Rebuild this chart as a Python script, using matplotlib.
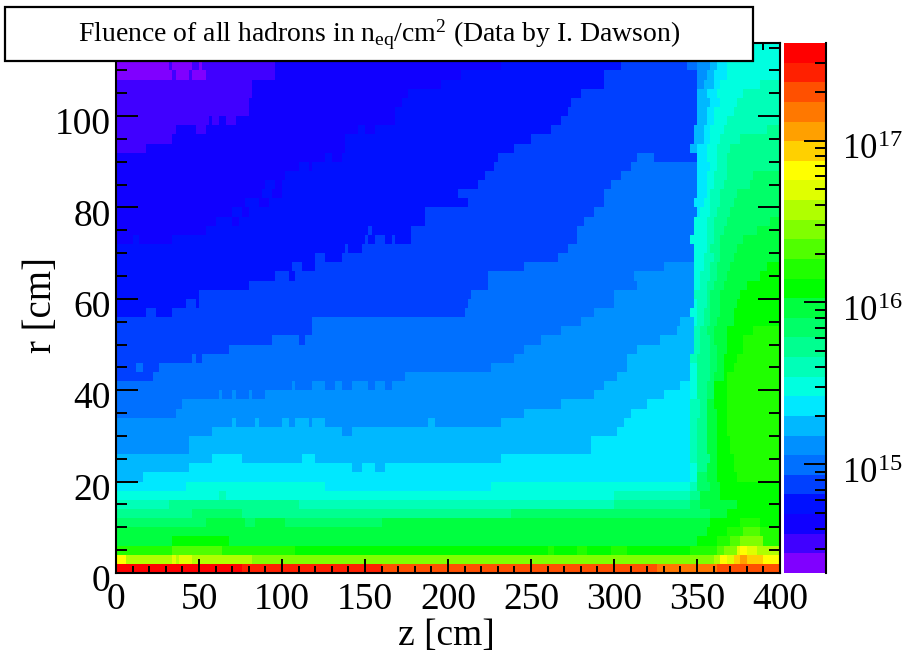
import numpy as np
import matplotlib
matplotlib.use("Agg")
import matplotlib.pyplot as plt
from matplotlib.colors import ListedColormap, LogNorm
from matplotlib.patches import Rectangle
from matplotlib.ticker import LogLocator, MultipleLocator, NullFormatter, FixedLocator, FixedFormatter
import matplotlib.transforms as mtrans

# Colour-band index read per 2 cm r-row, as (z end in cm, band) runs from z = 0
rows_000_020 = [
 [(76,26),(160,25),(326,24),(362,23),(400,24)],
 [(6,20),(34,18),(36,19),(38,18),(46,19),(82,18),(360,17),(364,18),(368,20),(372,19),(376,21),(380,22),(390,21),(400,20)],
 [(34,15),(64,16),(108,15),(260,14),(264,15),(278,14),(284,15),(298,14),(308,15),(346,14),(362,15),(366,16),(374,17),(376,19),(380,20),(386,19),(400,18)],
 [(34,13),(68,14),(350,13),(362,14),(370,15),(376,16),(390,17),(400,15)],
 [(356,13),(368,14),(378,15),(388,16),(400,15)],
 [(54,12),(78,13),(84,12),(102,13),(160,12),(358,13),(376,14),(388,15),(400,14)],
 [(46,11),(76,12),(238,11),(358,12),(368,13),(400,14)],
 [(32,10),(110,11),(300,10),(346,11),(352,12),(374,13),(400,14)],
 [(62,9),(66,10),(300,9),(346,10),(352,11),(364,13),(400,14)],
 [(42,8),(126,9),(226,8),(346,9),(350,10),(358,12),(364,13),(400,14)],
]
rows_020_040 = [
 [(16,7),(346,8),(350,9),(356,12),(362,13),(374,14),(400,15)],
 [(44,7),(142,8),(148,7),(156,8),(162,7),(346,8),(350,9),(356,11),(362,13),(372,14),(400,15)],
 [(58,7),(76,8),(112,7),(120,8),(232,7),(346,8),(350,10),(358,11),(362,13),(372,14),(400,15)],
 [(44,6),(286,7),(346,8),(350,10),(356,11),(362,13),(370,14),(400,15)],
 [(44,6),(286,7),(346,8),(350,10),(356,11),(362,13),(370,14),(400,15)],
 [(58,6),(136,7),(142,6),(302,7),(346,8),(350,10),(356,11),(362,13),(368,14),(400,15)],
 [(70,6),(72,7),(84,6),(86,7),(100,6),(104,7),(108,6),(116,7),(118,6),(126,7),(188,6),(192,7),(232,6),(306,7),(346,8),(350,10),(356,11),(362,13),(368,14),(400,15)],
 [(36,5),(246,6),(310,7),(346,8),(352,10),(356,11),(362,13),(368,14),(400,15)],
 [(40,5),(268,6),(320,7),(346,8),(352,10),(356,11),(360,13),(368,14),(400,15)],
 [(62,5),(64,6),(70,5),(72,6),(80,5),(82,6),(90,5),(288,6),(330,7),(346,8),(350,9),(356,11),(360,12),(368,14),(400,15)],
]
rows_040_060 = [
 [(106,5),(108,6),(118,5),(126,6),(132,5),(136,6),(142,5),(152,6),(156,5),(162,6),(166,5),(294,6),(340,7),(346,8),(350,9),(356,11),(360,12),(368,14),(400,15)],
 [(22,4),(174,5),(302,6),(346,7),(350,9),(358,11),(360,12),(366,13),(368,14),(400,15)],
 [(12,4),(16,5),(26,4),(226,5),(308,6),(346,7),(350,9),(358,11),(362,12),(366,13),(372,14),(400,15)],
 [(46,4),(48,5),(52,4),(240,5),(308,6),(346,7),(350,10),(358,11),(362,12),(366,13),(374,14),(400,15)],
 [(68,4),(246,5),(314,6),(348,7),(352,10),(358,11),(362,12),(368,13),(378,14),(400,15)],
 [(94,4),(110,5),(114,4),(256,5),(328,6),(348,7),(352,10),(358,11),(360,12),(368,13),(378,14),(400,15)],
 [(118,4),(268,5),(338,6),(348,7),(352,10),(356,11),(360,12),(368,13),(384,14),(400,15)],
 [(118,4),(280,5),(340,6),(348,7),(350,9),(354,10),(358,11),(362,12),(372,13),(400,14)],
 [(18,3),(24,4),(34,3),(210,4),(288,5),(346,6),(350,9),(354,10),(358,11),(364,12),(372,13),(400,14)],
 [(42,3),(48,4),(50,3),(212,4),(300,5),(348,6),(350,9),(356,10),(358,11),(364,12),(374,13),(400,14)],
]
rows_060_080 = [
 [(50,3),(214,4),(300,5),(348,6),(356,10),(358,11),(364,12),(376,13),(400,14)],
 [(80,3),(224,4),(314,5),(348,6),(352,9),(356,10),(360,11),(366,12),(380,13),(400,14)],
 [(96,3),(104,4),(108,3),(224,4),(312,5),(348,6),(352,9),(358,10),(362,11),(368,12),(388,13),(400,14)],
 [(106,3),(112,4),(120,3),(246,4),(330,5),(348,6),(354,9),(358,10),(362,11),(370,12),(392,13),(400,14)],
 [(120,3),(126,4),(136,3),(148,4),(266,4),(348,5),(354,9),(360,10),(364,11),(372,12),(400,13)],
 [(138,3),(140,4),(148,3),(272,4),(348,5),(356,9),(358,10),(364,11),(374,12),(400,13)],
 [(10,2),(14,3),(34,2),(150,3),(152,4),(156,3),(162,4),(166,3),(168,4),(178,3),(278,4),(346,5),(356,9),(360,10),(364,11),(378,12),(400,13)],
 [(54,2),(152,3),(154,4),(178,3),(278,4),(348,5),(356,9),(360,10),(366,11),(386,12),(400,13)],
 [(60,2),(70,3),(74,2),(186,3),(282,4),(348,5),(356,9),(360,10),(368,11),(394,12),(400,13)],
 [(70,2),(76,3),(80,2),(186,3),(288,4),(350,5),(352,8),(358,9),(362,10),(370,11),(400,12)],
]
rows_080_100 = [
 [(78,2),(86,3),(92,2),(212,3),(294,4),(348,5),(354,8),(358,9),(364,10),(372,11),(400,12)],
 [(88,2),(94,3),(100,2),(206,3),(294,4),(350,5),(356,8),(358,9),(364,10),(374,11),(400,12)],
 [(90,2),(96,3),(100,2),(218,3),(298,4),(350,5),(356,8),(360,9),(366,10),(382,11),(400,12)],
 [(102,2),(222,3),(304,4),(350,5),(356,8),(360,9),(368,10),(384,11),(400,12)],
 [(110,2),(116,3),(118,2),(228,3),(310,4),(350,5),(358,8),(362,9),(368,10),(400,11)],
 [(126,2),(130,3),(136,2),(230,3),(314,4),(324,5),(350,4),(356,8),(362,9),(368,10),(400,11)],
 [(18,1),(138,2),(240,3),(346,4),(350,7),(356,8),(362,9),(370,10),(400,11)],
 [(34,1),(138,2),(250,3),(348,4),(354,7),(358,8),(364,9),(376,10),(400,11)],
 [(36,1),(48,2),(54,1),(146,2),(150,3),(156,2),(262,3),(348,4),(354,7),(358,8),(366,9),(392,10),(400,11)],
 [(56,1),(58,2),(62,1),(66,2),(72,1),(168,2),(268,3),(350,4),(356,7),(360,8),(368,9),(400,10)],
]
rows_100_116 = [
 [(80,1),(168,2),(272,3),(350,4),(356,7),(360,8),(372,9),(400,10)],
 [(80,1),(172,2),(274,3),(350,4),(358,7),(364,8),(374,9),(400,10)],
 [(82,1),(176,2),(280,3),(350,4),(356,7),(362,8),(378,9),(400,10)],
 [(82,1),(196,2),(294,3),(350,4),(354,6),(360,7),(364,8),(388,9),(400,10)],
 [(34,0),(36,1),(44,0),(46,1),(54,0),(96,1),(208,2),(294,3),(350,4),(356,6),(360,7),(368,8),(400,9)],
 [(32,0),(34,1),(46,0),(50,1),(52,0),(96,1),(232,2),(304,3),(344,4),(350,5),(358,6),(362,7),(368,8),(400,9)],
 [(32,0),(96,1),(232,2),(304,3),(344,4),(350,5),(358,6),(362,7),(368,8),(400,9)],
 [(32,0),(96,1),(232,2),(304,3),(344,4),(350,5),(358,6),(362,7),(368,8),(400,9)],
]
band_colors = ["#8000ff","#4000ff","#1000ff","#0010ff","#0040ff","#0070ff","#0090ff","#00b8ff","#00e8ff",
               "#00ffe0","#00ffb8","#00ff90","#00ff68","#00ff40","#00ff00","#20ff00","#50ff00","#80ff00",
               "#b0ff00","#e0ff00","#ffff00","#ffd000","#ffa000","#ff7800","#ff5000","#ff2000","#ff0000"]
z_ticks = [0, 50, 100, 150, 200, 250, 300, 350, 400]
r_ticks = [0, 20, 40, 60, 80, 100]
title_text = r"Fluence of all hadrons in n$_{\mathrm{eq}}$/cm$^{2}$ (Data by I. Dawson)"

W, H = 906, 652
SERIF = "Liberation Serif"
plt.rcParams["font.family"] = SERIF
plt.rcParams["mathtext.fontset"] = "custom"
plt.rcParams["mathtext.rm"] = SERIF
plt.rcParams["mathtext.it"] = SERIF + ":italic"
plt.rcParams["mathtext.bf"] = SERIF + ":bold"

all_rows = rows_000_020 + rows_020_040 + rows_040_060 + rows_060_080 + rows_080_100 + rows_100_116
z_edges = np.arange(0, 402, 2)
r_edges = np.arange(0, 118, 2)
vmin_log, vmax_log = 14.33, 17.602
step = (vmax_log - vmin_log) / len(band_colors)
bands = np.zeros((len(all_rows), len(z_edges) - 1))
for i, runs in enumerate(all_rows):
    start = 0
    for end, b in runs:
        bands[i, start // 2:end // 2] = b
        start = end
fluence = 10 ** (vmin_log + (bands + 0.5) * step)


def px_x(x):
    return x / W


def px_y(y):
    return 1 - y / H


fig = plt.figure(figsize=(W / 100, H / 100), dpi=100, facecolor="white")
ax = fig.add_axes([px_x(116), px_y(573), 664 / W, 530 / H])
cmap = ListedColormap(band_colors)
norm = LogNorm(10 ** vmin_log, 10 ** vmax_log)
mesh = ax.pcolormesh(z_edges, r_edges, fluence, cmap=cmap, norm=norm, shading="flat", rasterized=True)
ax.set_xlim(0, 400)
ax.set_ylim(0, 116)
ax.set_xticks(z_ticks)
ax.set_yticks(r_ticks)
ax.xaxis.set_minor_locator(MultipleLocator(10))
ax.yaxis.set_minor_locator(MultipleLocator(5))
ax.tick_params(axis="x", which="major", direction="in", top=True, length=10, width=1.4, labelsize=27, pad=7)
ax.tick_params(axis="x", which="minor", direction="in", top=True, length=5, width=1.4)
ax.tick_params(axis="y", which="major", direction="in", right=True, length=16, width=1.4, labelsize=27, pad=4)
ax.tick_params(axis="y", which="minor", direction="in", right=True, length=8, width=1.4)
for s in ax.spines.values():
    s.set_linewidth(1.5)
off = mtrans.ScaledTranslation(0, -5 / 100, fig.dpi_scale_trans)
for lab in ax.get_yticklabels():
    lab.set_transform(lab.get_transform() + off)

cax = fig.add_axes([px_x(784), px_y(573), 42 / W, 530 / H])
cb = fig.colorbar(mesh, cax=cax)
cb.outline.set_visible(False)
cax.plot([1, 1], [0, 1], transform=cax.transAxes, color="black", lw=1.5, clip_on=False)
decades = [1e15, 1e16, 1e17]
cax.yaxis.set_major_locator(FixedLocator(decades))
cax.yaxis.set_major_formatter(FixedFormatter([r"$\mathdefault{10^{15}}$", r"$\mathdefault{10^{16}}$", r"$\mathdefault{10^{17}}$"]))
cax.yaxis.set_minor_locator(LogLocator(base=10, subs=[2, 3, 4, 5, 6, 7, 8, 9], numticks=12))
cax.yaxis.set_minor_formatter(NullFormatter())
cax.tick_params(axis="y", which="major", direction="in", right=True, left=False, length=16, width=1.4, labelsize=25, pad=11.5)
cax.tick_params(axis="y", which="minor", direction="in", right=True, left=False, length=8, width=1.4)
for lab in cax.get_yticklabels():
    lab.set_transform(lab.get_transform() + mtrans.ScaledTranslation(0, -6 / 100, fig.dpi_scale_trans))

fig.text(px_x(446), px_y(636), "z [cm]", fontsize=27, ha="center", va="center")
fig.text(px_x(42), px_y(305), "r [cm]", fontsize=28, ha="center", va="center", rotation=90)

box = Rectangle((px_x(5), px_y(61)), 748 / W, 54 / H, transform=fig.transFigure,
                facecolor="white", edgecolor="black", lw=1.6, zorder=5)
fig.add_artist(box)
fig.text(px_x(379), px_y(35), title_text, fontsize=20, ha="center", va="center", zorder=6)

fig.savefig("out.png", dpi=100)
